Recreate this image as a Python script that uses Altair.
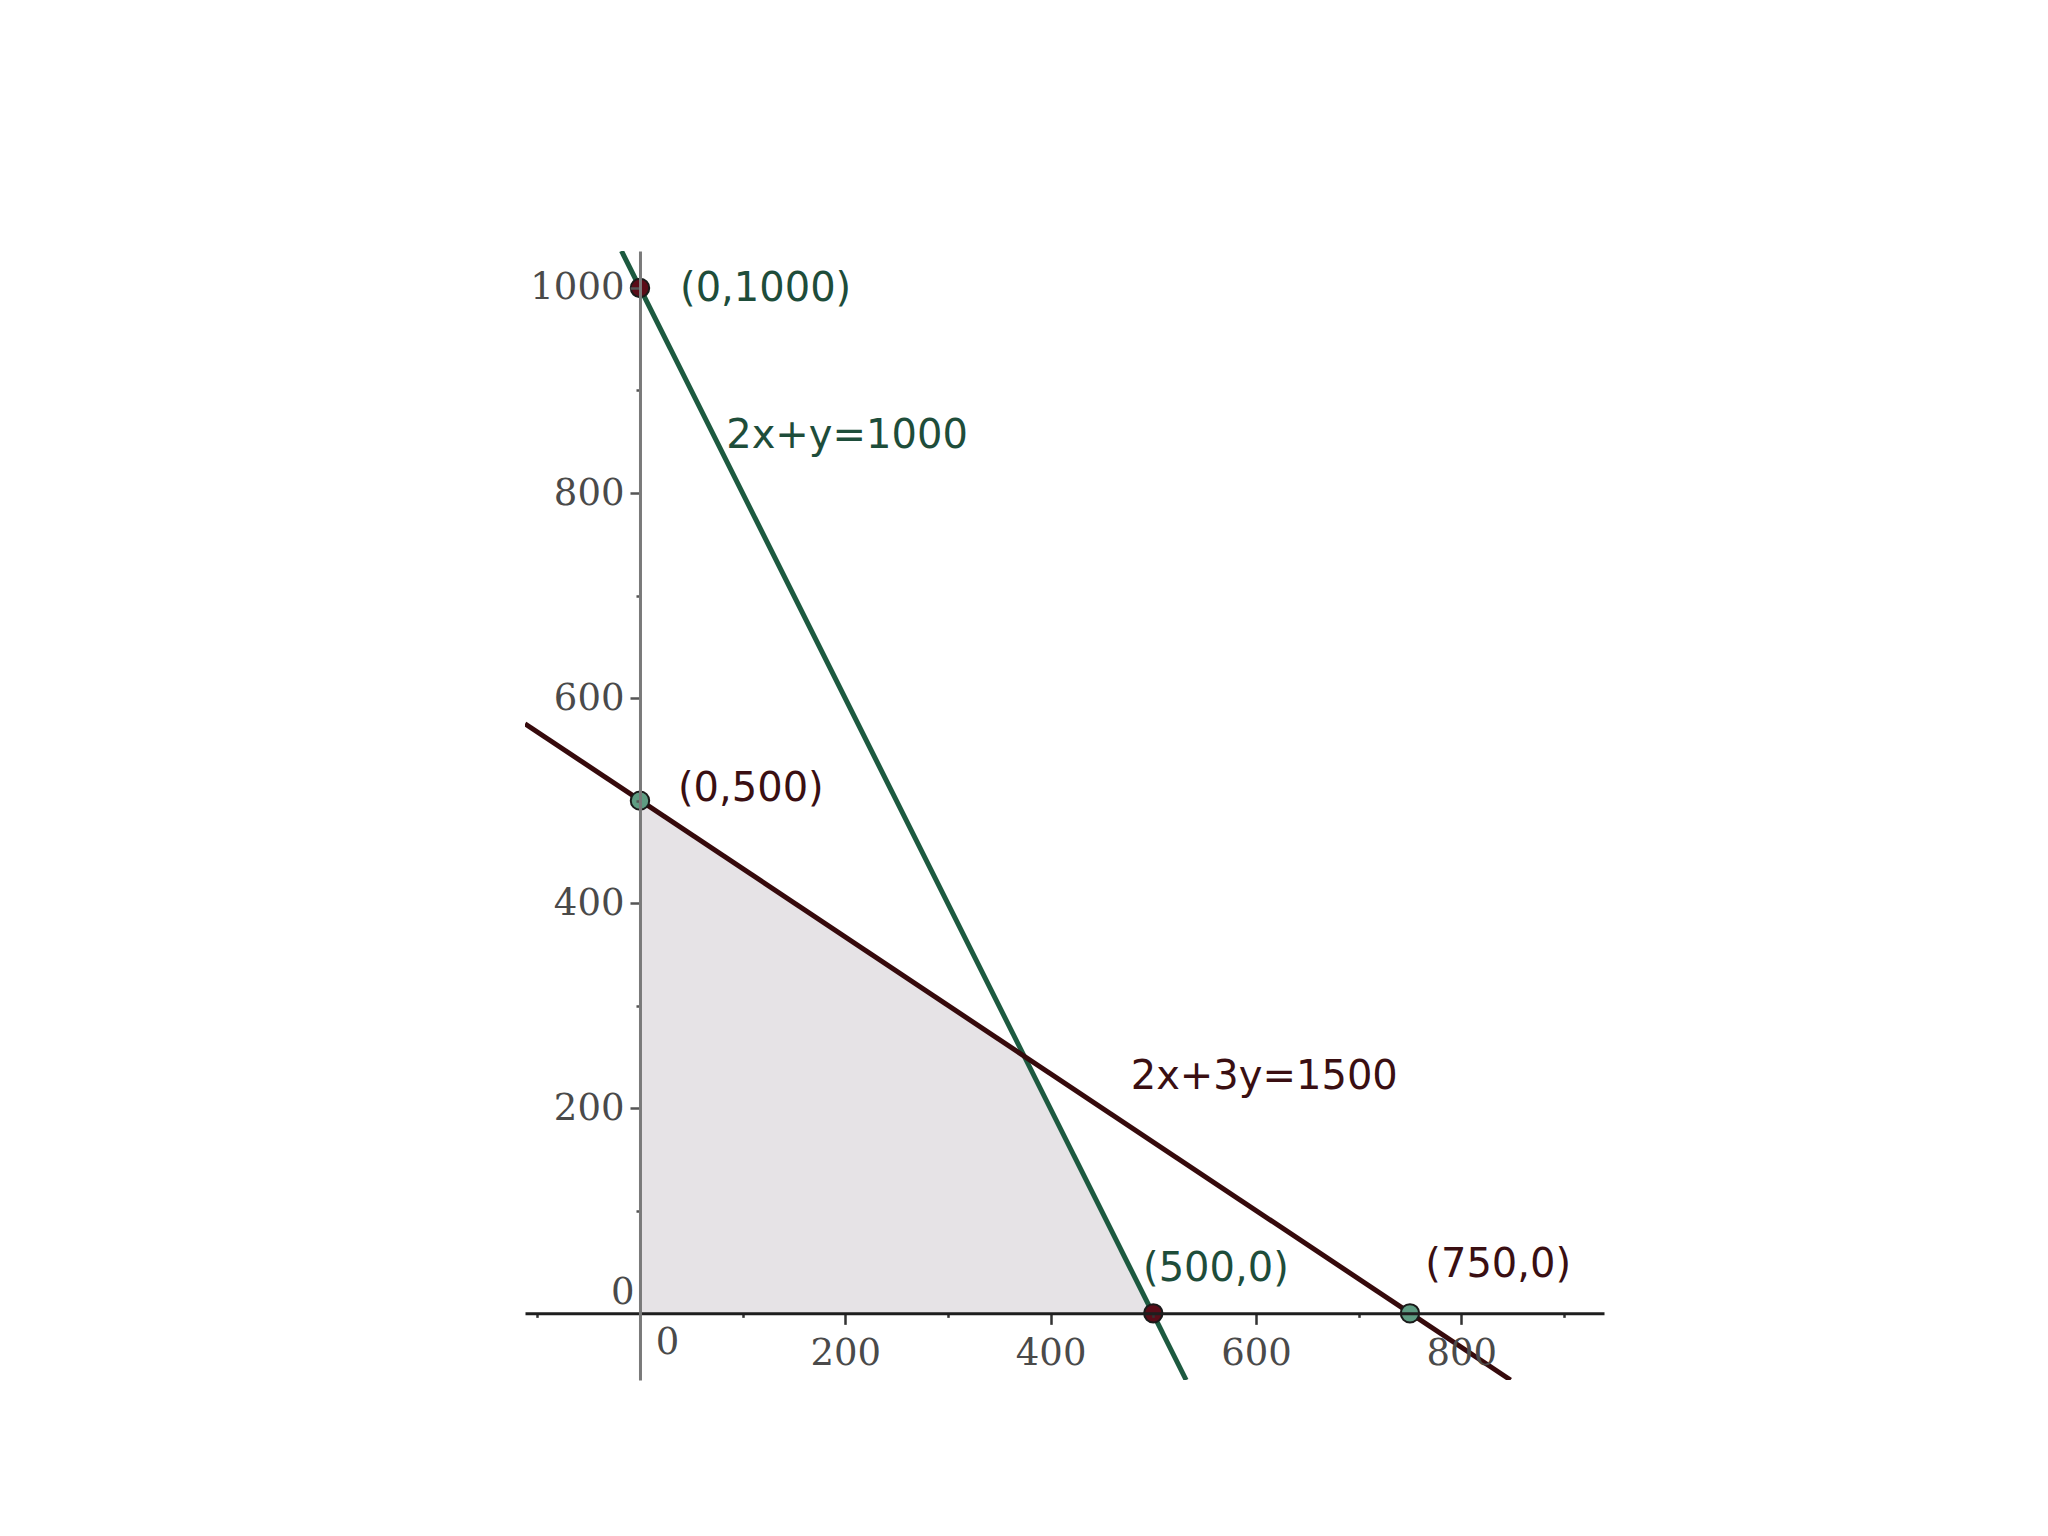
import altair as alt
import pandas as pd

# ---- data ----
x_domain = [-112, 939]
y_domain = [-65, 1036]

# feasible region vertices
region_x = [0, 375, 500]
region_y = [500, 250, 0]

# constraint lines (end points inside the view)
green_x = [-18, 532]
green_y = [1036, -65]
maroon_x = [-112, 848]
maroon_y = [575, -65]

# corner points
pt_x = [0, 500, 0, 750]
pt_y = [1000, 0, 500, 0]
pt_kind = ["red", "red", "green", "green"]

# annotations
ann_text = ["(0,1000)", "2x+y=1000", "(500,0)", "(0,500)", "2x+3y=1500", "(750,0)"]
ann_x = [39, 84, 490, 37, 478, 765]
ann_y = [999, 856, 43, 511, 230, 47]
ann_kind = ["green", "green", "green", "maroon", "maroon", "maroon"]

x_ticks = [-100, 0, 100, 200, 300, 400, 500, 600, 700, 800, 900]
y_ticks = [0, 100, 200, 300, 400, 500, 600, 700, 800, 900, 1000]

W, H = 1079, 1129
GREEN = "#1d5a40"
MAROON = "#360a0c"

y_off = -(0 - x_domain[0]) / (x_domain[1] - x_domain[0]) * W
x_off = -(0 - y_domain[0]) / (y_domain[1] - y_domain[0]) * H


def tick_size(major, minor):
    return {
        "condition": [
            {"test": "datum.value == 0", "value": 0},
            {"test": "datum.value % 200 == 0", "value": major},
        ],
        "value": minor,
    }


xs = alt.Scale(domain=x_domain, nice=False, zero=False)
ys = alt.Scale(domain=y_domain, nice=False, zero=False)

x_axis = alt.Axis(
    values=x_ticks, offset=x_off, title=None, grid=False, format="d",
    domainColor="#1e1e1e", domainWidth=3,
    tickColor="#333333", tickWidth=2.5,
    tickSize=tick_size(11, 4),
    labelExpr="datum.value >= 0 && datum.value % 200 == 0 ? datum.label : ''",
    labelOffset={"condition": {"test": "datum.value == 0", "value": 27}, "value": 0},
    labelFont="DejaVu Serif", labelFontSize=37, labelColor="#4a4a4a",
    labelPadding=11, labelOverlap=False, labelFlush=False, zindex=1,
)
y_axis = alt.Axis(
    values=y_ticks, offset=y_off, title=None, grid=False, format="d",
    domainColor="#7a7a7a", domainWidth=3,
    tickColor="#555555", tickWidth=2.5,
    tickSize=tick_size(10, 4),
    labelExpr="datum.value % 200 == 0 ? datum.label : ''",
    labelOffset={"condition": {"test": "datum.value == 0", "value": -21}, "value": 0},
    labelFont="DejaVu Serif", labelFontSize=37, labelColor="#4a4a4a",
    labelPadding=6, labelOverlap=False, labelFlush=False, zindex=1,
)

region = pd.DataFrame({"x": region_x, "y": region_y, "y0": [0] * len(region_x)})
lines = pd.DataFrame({
    "x": green_x + maroon_x,
    "y": green_y + maroon_y,
    "line": ["green"] * 2 + ["maroon"] * 2,
})
pts = pd.DataFrame({"x": pt_x, "y": pt_y, "kind": pt_kind})
ann = pd.DataFrame({"x": ann_x, "y": ann_y, "text": ann_text, "kind": ann_kind})

area = alt.Chart(region).mark_area(color="#e6e3e6", opacity=1).encode(
    x=alt.X("x:Q", scale=xs, axis=x_axis),
    y=alt.Y("y:Q", scale=ys, axis=y_axis),
    y2="y0:Q",
)

line = alt.Chart(lines).mark_line(strokeWidth=5, clip=True).encode(
    x=alt.X("x:Q", scale=xs),
    y=alt.Y("y:Q", scale=ys),
    detail="line:N",
    color=alt.Color("line:N", scale=alt.Scale(domain=["green", "maroon"], range=[GREEN, MAROON]), legend=None),
)

point = alt.Chart(pts).mark_point(filled=True, size=340, strokeWidth=2, stroke="#1a1a1a", opacity=1).encode(
    x=alt.X("x:Q", scale=xs),
    y=alt.Y("y:Q", scale=ys),
    fill=alt.Fill("kind:N", scale=alt.Scale(domain=["red", "green"], range=["#5a0c18", "#5e9c82"]), legend=None),
)

text = alt.Chart(ann).mark_text(align="left", baseline="middle", font="DejaVu Sans", fontSize=40).encode(
    x=alt.X("x:Q", scale=xs),
    y=alt.Y("y:Q", scale=ys),
    text="text:N",
    color=alt.Color("kind:N", scale=alt.Scale(domain=["green", "maroon"], range=["#1e4d3a", "#3a0f12"]), legend=None),
)

chart = alt.layer(area, line, point, text).resolve_scale(color="independent").properties(
    width=W, height=H,
    padding={"left": 517, "top": 243, "right": 10, "bottom": 10},
    background="white",
).configure_view(stroke=None, strokeWidth=0)

chart.save("out.html", embed_options={"renderer": "svg", "actions": False})
